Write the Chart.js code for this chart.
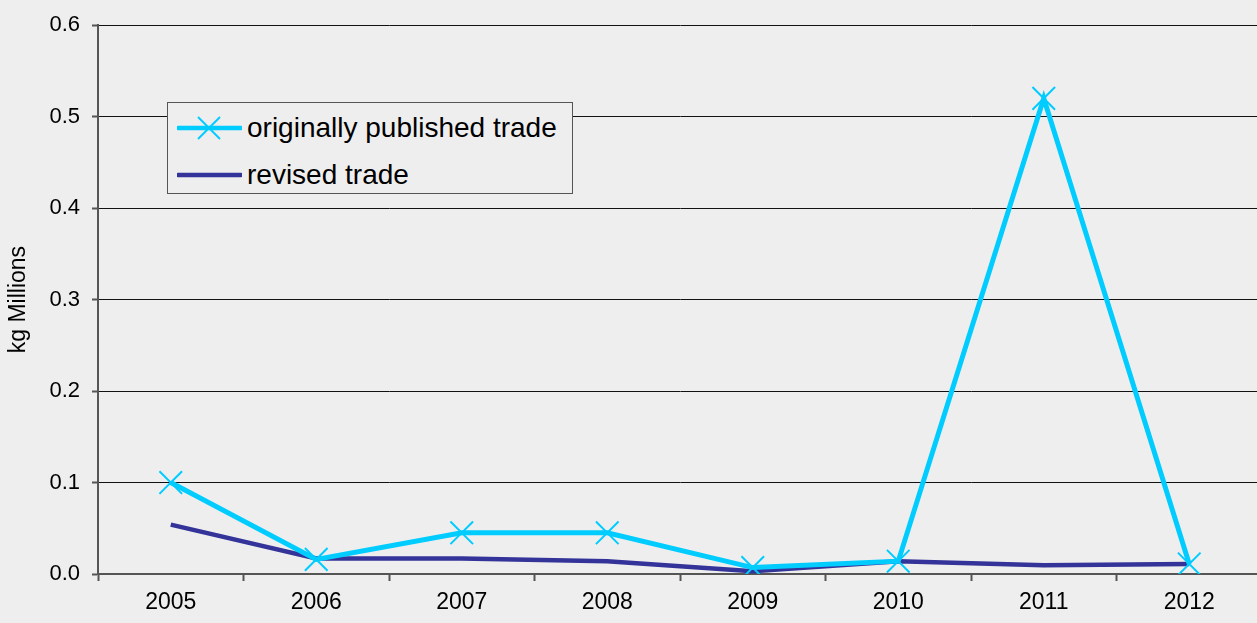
<!DOCTYPE html>
<html>
<head>
<meta charset="utf-8">
<script src="https://cdn.jsdelivr.net/npm/chart.js@4"></script>
<style>
  html, body { margin: 0; padding: 0; background: #eeeeee; overflow: hidden; }
  #wrap { position: relative; width: 1257px; height: 623px; overflow: hidden; }
  #c { display: block; }
  #legend {
    position: absolute; left: 167px; top: 102px; width: 404px; height: 90px;
    border: 1px solid #555; background: #eeeeee;
    font-family: "Liberation Sans", Arial, sans-serif; font-size: 28px; color: #000;
  }
  .leg-row { position: absolute; left: 9px; height: 32px; display: flex; align-items: center; white-space: nowrap; }
  .leg-row svg { margin-right: 5px; }
</style>
</head>
<body>
<div id="wrap">
  <!-- a few px wider than the window so the plot runs right to the edge -->
  <canvas id="c" width="1262" height="623"></canvas>
  <div id="legend"></div>
</div>
<script>
// kg Millions by year — originally published vs revised trade
var years = ['2005', '2006', '2007', '2008', '2009', '2010', '2011', '2012'];
var originalTrade = [0.100, 0.016, 0.045, 0.045, 0.007, 0.014, 0.520, 0.011];
var revisedTrade  = [0.054, 0.017, 0.017, 0.014, 0.003, 0.014, 0.0095, 0.011];
var seriesNames = ['originally published trade', 'revised trade'];
var yMax = 0.6, yStep = 0.1;

var CYAN = '#00ccff';
var NAVY = '#333399';
var FONT = '"Liberation Sans", Arial, sans-serif';

// legend (sits inside the plot, like the original)
(function () {
  var leg = document.getElementById('legend');
  var rows = [
    { name: seriesNames[0], color: CYAN, marker: true, top: 9 },
    { name: seriesNames[1], color: NAVY, marker: false, top: 56 }
  ];
  rows.forEach(function (r) {
    var d = document.createElement('div');
    d.className = 'leg-row';
    d.style.top = r.top + 'px';
    var svg = '<svg width="65" height="30" viewBox="0 0 65 30">'
      + '<line x1="1" y1="15" x2="64" y2="15" stroke="' + r.color + '" stroke-width="4.5" stroke-linecap="round"/>';
    if (r.marker) {
      svg += '<line x1="21" y1="4" x2="43" y2="26" stroke="' + r.color + '" stroke-width="2"/>'
        + '<line x1="43" y1="4" x2="21" y2="26" stroke="' + r.color + '" stroke-width="2"/>';
    }
    svg += '</svg>';
    d.innerHTML = svg + '<span>' + r.name + '</span>';
    leg.appendChild(d);
  });
})();

new Chart(document.getElementById('c'), {
  type: 'line',
  data: {
    labels: years,
    datasets: [
      {
        label: seriesNames[1],
        data: revisedTrade,
        borderColor: NAVY,
        backgroundColor: NAVY,
        borderWidth: 4.5,
        pointRadius: 0,
        tension: 0,
        order: 2
      },
      {
        label: seriesNames[0],
        data: originalTrade,
        borderColor: CYAN,
        backgroundColor: CYAN,
        borderWidth: 5,
        pointStyle: 'crossRot',
        pointRadius: 16,
        pointBorderWidth: 2,
        pointBorderColor: CYAN,
        tension: 0,
        order: 1
      }
    ]
  },
  options: {
    responsive: false,
    animation: false,
    layout: { autoPadding: false, padding: { top: 24, right: 0, left: 0, bottom: 0 } },
    plugins: { legend: { display: false }, tooltip: { enabled: false } },
    scales: {
      x: {
        offset: true,
        grid: { offset: true, drawOnChartArea: false, drawTicks: true, tickLength: 7, tickColor: '#555', tickWidth: 2 },
        border: { color: '#555', width: 2 },
        ticks: { color: '#000', font: { family: FONT, size: 23 }, padding: 8, maxRotation: 0 },
        afterFit: function (s) { s.height = 49; s.paddingLeft = 0; s.paddingRight = 0; }
      },
      y: {
        min: 0, max: yMax,
        grid: { color: '#111', lineWidth: 1, drawTicks: true, tickLength: 6, tickColor: '#555', tickWidth: 2 },
        border: { color: '#555', width: 2 },
        ticks: {
          stepSize: yStep, color: '#000', font: { family: FONT, size: 22 }, padding: 12,
          callback: function (v) { return v.toFixed(1); }
        },
        title: { display: true, text: 'kg Millions', color: '#000', font: { family: FONT, size: 23 }, padding: { top: 5 } },
        afterFit: function (s) { s.width = 98; }
      }
    }
  }
});
</script>
</body>
</html>
